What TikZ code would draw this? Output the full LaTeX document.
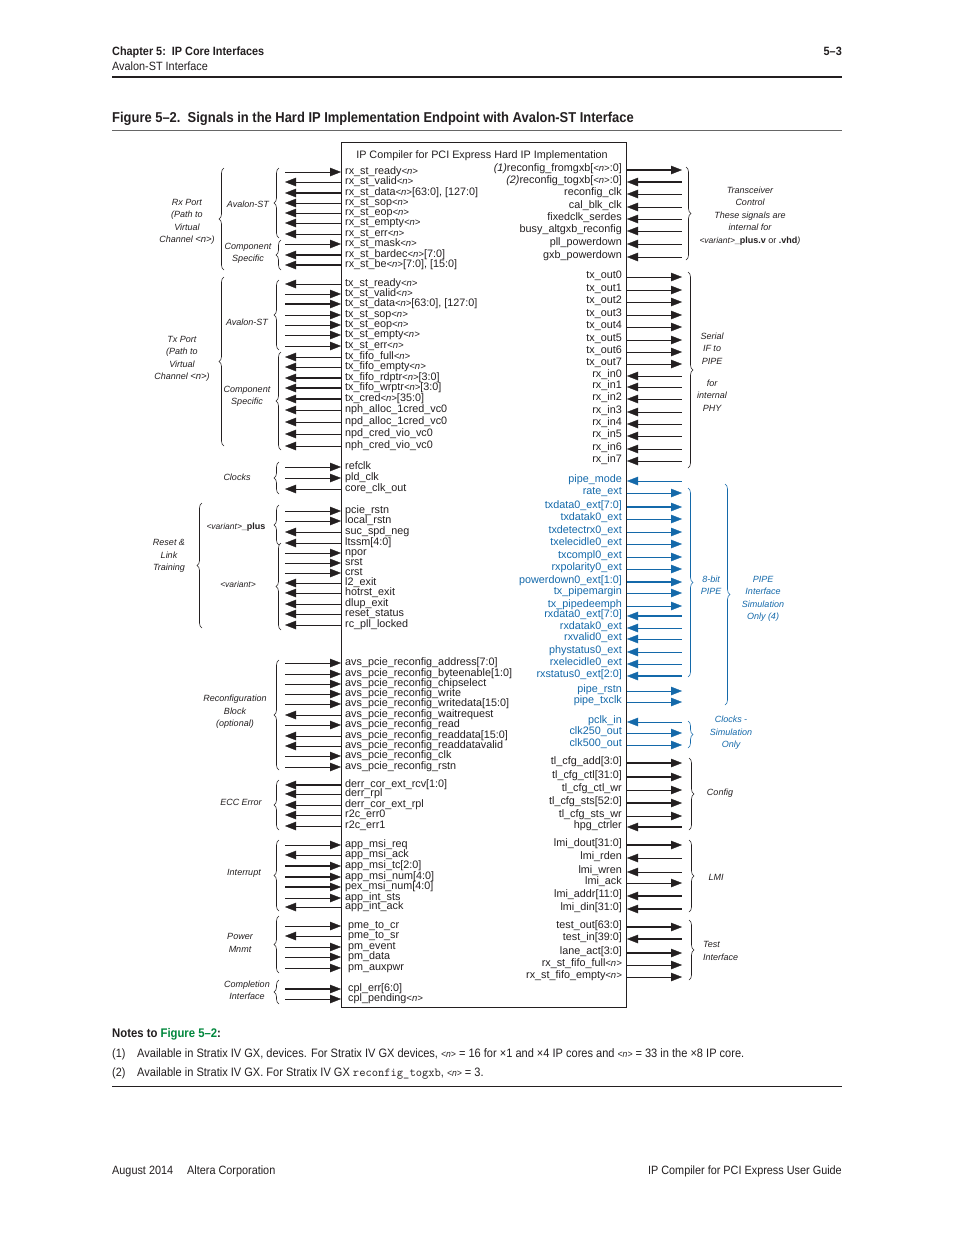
\documentclass[tikz,border=0pt]{standalone}
\usepackage{fontspec}
\setmainfont{Liberation Sans}
\newfontfamily\condfont[FakeStretch=0.905,Ligatures=TeX]{Liberation Sans}
\usetikzlibrary{arrows.meta,decorations.pathreplacing}

\definecolor{ink}{RGB}{35,31,32}
\definecolor{pipeblue}{RGB}{20,105,170}
\definecolor{notegreen}{RGB}{0,135,60}

\newcommand{\nv}{{\fontsize{9.5}{9}\selectfont\itshape<n>}}
\newcommand{\nvar}{{\fontsize{8.5}{8}\selectfont\itshape<variant>}}

\tikzset{
	sig/.style={font=\fontsize{10.8}{12}\selectfont, text=ink, inner sep=0pt, text height=7.5pt, text depth=2.5pt},
	lsig/.style={sig, anchor=west},
	rsig/.style={sig, anchor=east},
	wire/.style={line width=1pt, draw=ink},
	bus/.style={line width=2.8pt, draw=ink},
	headend/.style={-{Triangle[length=11pt,width=8.5pt,line width=0.3pt]}},
	headstart/.style={{Triangle[length=11pt,width=8.5pt,line width=0.3pt]}-},
	grp/.style={font=\fontsize{9}{12.4}\selectfont\itshape, text=ink, align=center, inner sep=0pt},
	grpbrace/.style={draw=ink, line width=0.6pt, decorate, decoration={brace, amplitude=5pt}},
	page/.style={font=\condfont\fontsize{12}{14}\selectfont, text=ink, inner sep=0pt, anchor=base west},
}

\begin{document}
\begin{tikzpicture}[x=1pt, y=-1pt]
	\useasboundingbox (0,0) rectangle (954,1235);
	\fill[white] (0,0) rectangle (954,1235);

	% page header
	\node[page, font=\condfont\bfseries\fontsize{12}{14}\selectfont] (chap) at (112,55) {Chapter 5:\ \ IP Core Interfaces};
	\node[page, anchor=base east, font=\condfont\bfseries\fontsize{12}{14}\selectfont] (pagenum) at (842,55) {5\textendash3};
	\node[page] (section) at (112,70) {Avalon-ST Interface};
	\draw[line width=1.2pt, ink] (112,77) -- (842,77);
	\node[page, font=\condfont\bfseries\fontsize{14.3}{16}\selectfont] (figtitle) at (112,122) {Figure 5\textendash2.\ \ Signals in the Hard IP Implementation Endpoint with Avalon-ST Interface};
	\draw[line width=0.5pt, black!60] (112,130) -- (842,130);

	% the core
	\node[draw=ink, line width=1pt, anchor=north west, minimum width=285pt, minimum height=865pt, inner sep=0pt] (core) at (341,142) {};
	\node[sig] (coretitle) at (482,156) {IP Compiler for PCI Express Hard IP Implementation};

	% left side signals
	\foreach \y/\d/\w/\t in {
		172/headend/wire/{rx\_st\_ready\nv}, 182/headstart/wire/{rx\_st\_valid\nv},
		193/headstart/bus/{rx\_st\_data\nv[63:0], [127:0]}, 203/headstart/wire/{rx\_st\_sop\nv},
		213/headstart/wire/{rx\_st\_eop\nv}, 223/headstart/wire/{rx\_st\_empty\nv},
		234/headstart/wire/{rx\_st\_err\nv}, 244/headend/wire/{rx\_st\_mask\nv},
		255/headstart/bus/{rx\_st\_bardec\nv[7:0]}, 265/headstart/bus/{rx\_st\_be\nv[7:0], [15:0]},
		284/headstart/wire/{tx\_st\_ready\nv}, 294/headend/wire/{tx\_st\_valid\nv},
		304/headend/bus/{tx\_st\_data\nv[63:0], [127:0]}, 315/headend/wire/{tx\_st\_sop\nv},
		325/headend/wire/{tx\_st\_eop\nv}, 335/headend/wire/{tx\_st\_empty\nv},
		346/headend/wire/{tx\_st\_err\nv}, 357/headstart/wire/{tx\_fifo\_full\nv},
		367/headstart/wire/{tx\_fifo\_empty\nv}, 378/headstart/bus/{tx\_fifo\_rdptr\nv[3:0]},
		388/headstart/bus/{tx\_fifo\_wrptr\nv[3:0]}, 399/headstart/bus/{tx\_cred\nv[35:0]},
		410/headstart/wire/{nph\_alloc\_1cred\_vc0}, 422/headstart/wire/{npd\_alloc\_1cred\_vc0},
		434/headstart/wire/{npd\_cred\_vio\_vc0}, 446/headstart/wire/{nph\_cred\_vio\_vc0},
		467/headend/wire/{refclk}, 478/headend/wire/{pld\_clk}, 489/headstart/wire/{core\_clk\_out},
		511/headend/wire/{pcie\_rstn}, 521/headend/wire/{local\_rstn},
		532/headstart/wire/{suc\_spd\_neg}, 543/headstart/wire/{ltssm[4:0]},
		553/headend/wire/{npor}, 563/headend/wire/{srst}, 573/headend/wire/{crst},
		583/headstart/wire/{l2\_exit}, 593/headstart/wire/{hotrst\_exit},
		604/headstart/wire/{dlup\_exit}, 614/headstart/wire/{reset\_status},
		625/headstart/wire/{rc\_pll\_locked},
		663/headend/wire/{avs\_pcie\_reconfig\_address[7:0]}, 674/headend/wire/{avs\_pcie\_reconfig\_byteenable[1:0]},
		684/headend/wire/{avs\_pcie\_reconfig\_chipselect}, 694/headend/wire/{avs\_pcie\_reconfig\_write},
		704/headend/wire/{avs\_pcie\_reconfig\_writedata[15:0]}, 715/headstart/wire/{avs\_pcie\_reconfig\_waitrequest},
		725/headend/wire/{avs\_pcie\_reconfig\_read}, 736/headstart/wire/{avs\_pcie\_reconfig\_readdata[15:0]},
		746/headstart/wire/{avs\_pcie\_reconfig\_readdatavalid}, 756/headend/wire/{avs\_pcie\_reconfig\_clk},
		767/headend/wire/{avs\_pcie\_reconfig\_rstn},
		785/headstart/bus/{derr\_cor\_ext\_rcv[1:0]}, 794/headstart/wire/{derr\_rpl},
		805/headstart/wire/{derr\_cor\_ext\_rpl}, 815/headstart/wire/{r2c\_err0}, 826/headstart/wire/{r2c\_err1},
		845/headend/wire/{app\_msi\_req}, 855/headstart/wire/{app\_msi\_ack},
		866/headend/bus/{app\_msi\_tc[2:0]}, 877/headend/bus/{app\_msi\_num[4:0]},
		887/headend/bus/{pex\_msi\_num[4:0]}, 898/headend/wire/{app\_int\_sts}, 907/headstart/wire/{app\_int\_ack}}{
		\coordinate (lend\y) at (285,\y);
		\node[lsig] (lsig\y) at (345,\y) {\t};
		\draw[\w,\d] (lend\y) -- (core.west |- lend\y);
	}
	\foreach \y/\d/\w/\t in {
		926/headend/wire/{pme\_to\_cr}, 936/headstart/wire/{pme\_to\_sr}, 947/headend/wire/{pm\_event},
		957/headend/wire/{pm\_data}, 968/headend/wire/{pm\_auxpwr},
		989/headend/bus/{cpl\_err[6:0]}, 999/headend/wire/{cpl\_pending\nv}}{
		\coordinate (lend\y) at (285,\y);
		\node[lsig] (lsig\y) at (348,\y) {\t};
		\draw[\w,\d] (lend\y) -- (core.west |- lend\y);
	}

	% right side signals
	\foreach \y/\d/\w/\t in {
		170/headend/bus/{{\itshape(1)}reconfig\_fromgxb[\nv:0]}, 182/headstart/bus/{{\itshape(2)}reconfig\_togxb[\nv:0]},
		194/headstart/wire/{reconfig\_clk}, 207/headstart/wire/{cal\_blk\_clk},
		219/headstart/wire/{fixedclk\_serdes}, 231/headstart/wire/{busy\_altgxb\_reconfig},
		244/headstart/wire/{pll\_powerdown}, 257/headstart/wire/{gxb\_powerdown},
		277/headend/wire/{tx\_out0}, 290/headend/wire/{tx\_out1}, 302/headend/wire/{tx\_out2},
		315/headend/wire/{tx\_out3}, 327/headend/wire/{tx\_out4}, 340/headend/wire/{tx\_out5},
		352/headend/wire/{tx\_out6}, 364/headend/wire/{tx\_out7},
		376/headstart/wire/{rx\_in0}, 387/headstart/wire/{rx\_in1}, 399/headstart/wire/{rx\_in2},
		412/headstart/wire/{rx\_in3}, 424/headstart/wire/{rx\_in4}, 436/headstart/wire/{rx\_in5},
		449/headstart/wire/{rx\_in6}, 461/headstart/wire/{rx\_in7},
		763/headend/bus/{tl\_cfg\_add[3:0]}, 777/headend/bus/{tl\_cfg\_ctl[31:0]},
		790/headend/wire/{tl\_cfg\_ctl\_wr}, 803/headend/bus/{tl\_cfg\_sts[52:0]},
		816/headend/wire/{tl\_cfg\_sts\_wr}, 827/headstart/bus/{hpg\_ctrler},
		845/headend/bus/{lmi\_dout[31:0]}, 858/headstart/wire/{lmi\_rden},
		872/headstart/wire/{lmi\_wren}, 883/headend/wire/{lmi\_ack},
		896/headstart/bus/{lmi\_addr[11:0]}, 909/headstart/bus/{lmi\_din[31:0]},
		927/headend/bus/{test\_out[63:0]}, 939/headstart/bus/{test\_in[39:0]},
		953/headend/bus/{lane\_act[3:0]}, 965/headend/wire/{rx\_st\_fifo\_full\nv},
		977/headend/wire/{rx\_st\_fifo\_empty\nv}}{
		\coordinate (rend\y) at (682,\y);
		\node[rsig] (rsig\y) at (622,\y-1) {\t};
		\draw[\w,\d] (core.east |- rend\y) -- (rend\y);
	}
	% PIPE signals, simulation only
	\foreach \y/\d/\w/\t in {
		481/headstart/wire/{pipe\_mode}, 493/headend/wire/{rate\_ext},
		507/headend/bus/{txdata0\_ext[7:0]}, 519/headend/wire/{txdatak0\_ext},
		532/headend/wire/{txdetectrx0\_ext}, 544/headend/wire/{txelecidle0\_ext},
		557/headend/wire/{txcompl0\_ext}, 569/headend/wire/{rxpolarity0\_ext},
		582/headend/bus/{powerdown0\_ext[1:0]}, 593/headend/wire/{tx\_pipemargin},
		606/headend/wire/{tx\_pipedeemph}, 616/headstart/bus/{rxdata0\_ext[7:0]},
		628/headstart/wire/{rxdatak0\_ext}, 639/headstart/wire/{rxvalid0\_ext},
		652/headstart/wire/{phystatus0\_ext}, 664/headstart/wire/{rxelecidle0\_ext},
		676/headstart/bus/{rxstatus0\_ext[2:0]}, 691/headend/wire/{pipe\_rstn},
		702/headend/wire/{pipe\_txclk},
		722/headstart/wire/{pclk\_in}, 733/headend/wire/{clk250\_out}, 745/headend/wire/{clk500\_out}}{
		\coordinate (rend\y) at (682,\y);
		\node[rsig, text=pipeblue] (rsig\y) at (622,\y-1) {\t};
		\draw[\w,\d, draw=pipeblue] (core.east |- rend\y) -- (rend\y);
	}

	% braces, left
	\draw[grpbrace] (224,270) -- (224,168);
	\draw[grpbrace] (279,238) -- (279,168);
	\draw[grpbrace] (281,270) -- (281,240);
	\draw[grpbrace] (224,446) -- (224,277);
	\draw[grpbrace] (279,350) -- (279,280);
	\draw[grpbrace] (281,450) -- (281,352);
	\draw[grpbrace] (279,494) -- (279,462);
	\draw[grpbrace] (202,628) -- (202,503);
	\draw[grpbrace] (279,545) -- (279,505);
	\draw[grpbrace] (281,630) -- (281,543);
	\draw[grpbrace] (279,770) -- (279,660);
	\draw[grpbrace] (279,830) -- (279,780);
	\draw[grpbrace] (279,911) -- (279,840);
	\draw[grpbrace] (279,973) -- (279,916);
	\draw[grpbrace] (279,1004) -- (279,980);

	% braces, right
	\draw[grpbrace] (686,167) -- (686,260);
	\draw[grpbrace] (688,272) -- (688,468);
	\draw[grpbrace, draw=pipeblue] (688,488) -- (688,677);
	\draw[grpbrace, draw=pipeblue] (725,484) -- (725,705);
	\draw[grpbrace, draw=pipeblue] (688,721) -- (688,748);
	\draw[grpbrace] (689,758) -- (689,830);
	\draw[grpbrace] (689,840) -- (689,912);
	\draw[grpbrace] (689,920) -- (689,980);

	% group labels, left
	\node[grp] (rxport) at (187,222) {Rx Port\\(Path to\\Virtual\\Channel \nv)};
	\node[grp, anchor=east] (rxavalon) at (269,204) {Avalon-ST};
	\node[grp] (rxcomp) at (248,253) {Component\\Specific};
	\node[grp] (txport) at (182,359) {Tx Port\\(Path to\\Virtual\\Channel \nv)};
	\node[grp] (txavalon) at (247,322) {Avalon-ST};
	\node[grp] (txcomp) at (247,396) {Component\\Specific};
	\node[grp] (clocks) at (237,477) {Clocks};
	\node[grp] (reset) at (169,556) {Reset \&\\Link\\Training};
	\node[grp] (varplus) at (236,527) {\nvar\textbf{\upshape\_plus}};
	\node[grp] (var) at (238,584) {\nvar};
	\node[grp] (reconf) at (235,712) {Reconfiguration\\Block\\(optional)};
	\node[grp] (ecc) at (241,802) {ECC Error};
	\node[grp] (intr) at (244,873) {Interrupt};
	\node[grp] (power) at (240,943) {Power\\Mnmt};
	\node[grp] (compl) at (247,990) {Completion\\Interface};

	% group labels, right
	\node[grp] (xcvr) at (750,216) {Transceiver\\Control\\These signals are\\internal for\\\nvar\textbf{\upshape\_plus.v} {\upshape or} \textbf{\upshape.vhd})};
	\node[grp] (serial) at (712,372) {Serial\\IF to\\PIPE\\[10pt]for\\internal\\PHY};
	\node[grp, text=pipeblue] (pipe8) at (711,585) {8-bit\\PIPE};
	\node[grp, text=pipeblue] (pipesim) at (763,599) {PIPE\\Interface\\Simulation\\Only (4)};
	\node[grp, text=pipeblue] (clksim) at (731,733) {Clocks -\\Simulation\\Only};
	\node[grp] (config) at (720,793) {Config};
	\node[grp] (lmi) at (716,877) {LMI};
	\node[grp, align=left, anchor=west] (test) at (703,951) {Test\\Interface};

	% notes
	\node[page, font=\condfont\bfseries\fontsize{12.5}{14}\selectfont] (notes) at (112,1037) {Notes to \textcolor{notegreen}{Figure 5\textendash2}:};
	\node[page] (note1num) at (112,1057) {(1)};
	\node[page, font=\condfont\fontsize{12.2}{14}\selectfont] (note1) at (137,1057) {Available in Stratix IV GX, devices. For Stratix IV GX devices, \nv\ = 16 for ×1 and ×4 IP cores and \nv\ = 33 in the ×8 IP core.};
	\node[page] (note2num) at (112,1076) {(2)};
	\node[page, font=\condfont\fontsize{12.2}{14}\selectfont] (note2) at (137,1076) {Available in Stratix IV GX. For Stratix IV GX {\ttfamily reconfig\_togxb}, \nv\ = 3.};
	\draw[line width=0.8pt, ink] (112,1086) -- (842,1086);

	% page footer
	\node[page] (date) at (112,1174) {August 2014};
	\node[page] (corp) at (187,1174) {Altera Corporation};
	\node[page, anchor=base east] (guide) at (842,1174) {IP Compiler for PCI Express User Guide};
\end{tikzpicture}
\end{document}
